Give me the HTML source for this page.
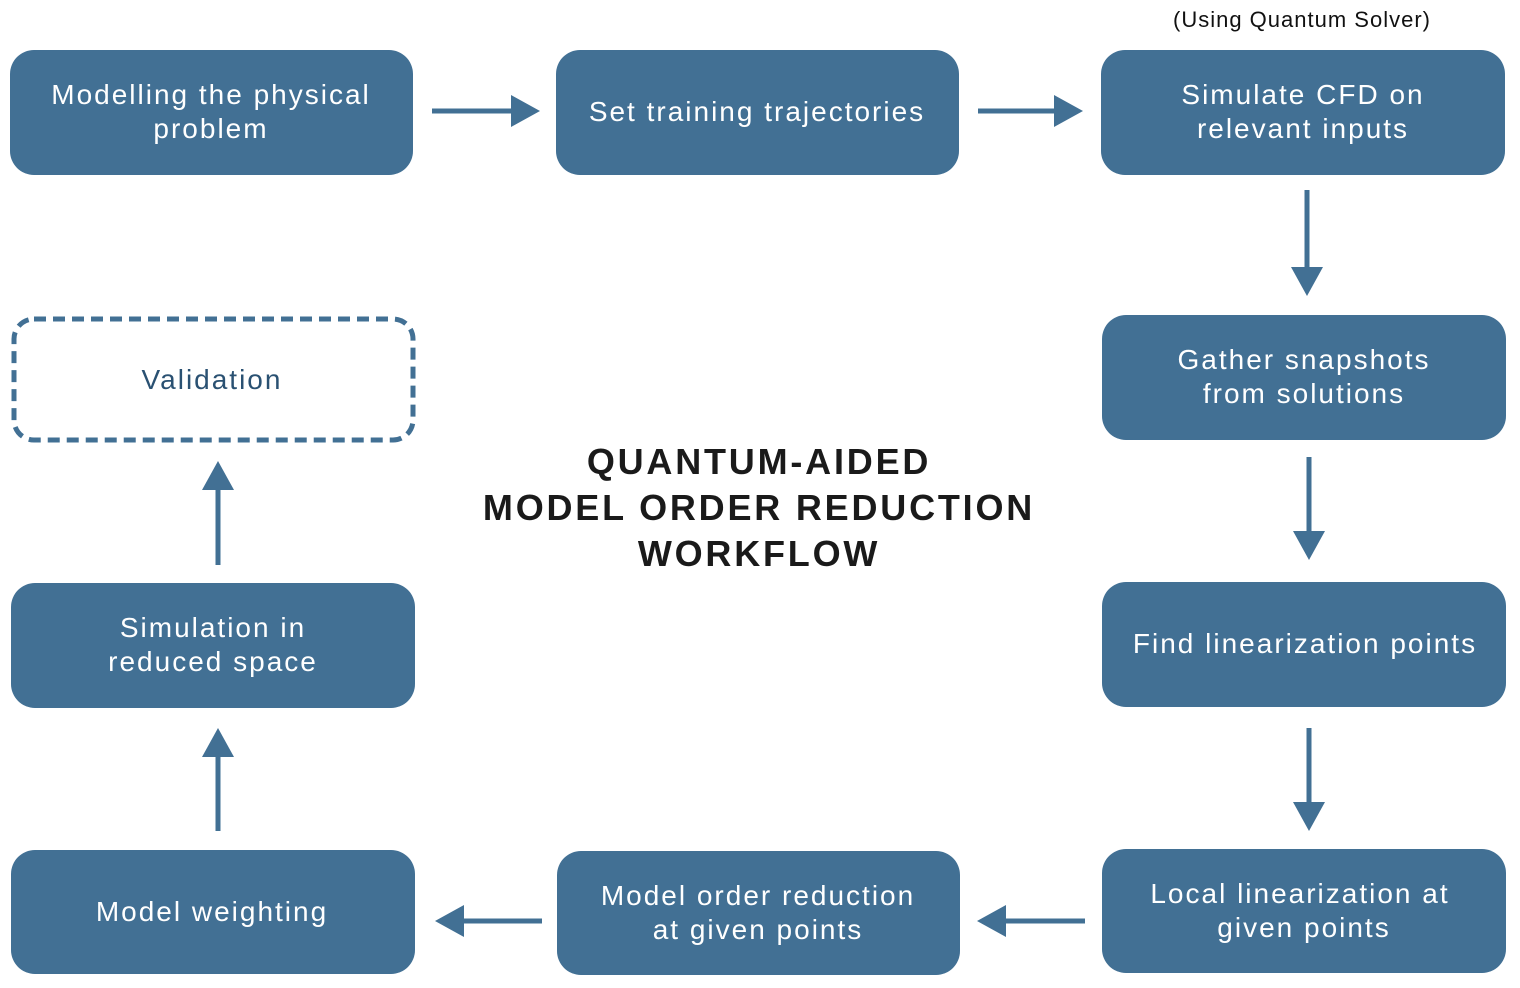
<!DOCTYPE html>
<html><head><meta charset="utf-8"><style>
html,body{margin:0;padding:0;background:#fff;}
svg{display:block;}
.t{font-family:"Liberation Sans",sans-serif;font-size:28px;fill:#fff;text-anchor:middle;letter-spacing:2px;}
</style></head><body>
<svg width="1520" height="988" viewBox="0 0 1520 988" xmlns="http://www.w3.org/2000/svg">
<g fill="#427094">
<rect x="10" y="50" width="403" height="125" rx="24"/>
<rect x="556" y="50" width="403" height="125" rx="24"/>
<rect x="1101" y="50" width="404" height="125" rx="24"/>
<rect x="1102" y="315" width="404" height="125" rx="24"/>
<rect x="1102" y="582" width="404" height="125" rx="24"/>
<rect x="1102" y="849" width="404" height="124" rx="24"/>
<rect x="557" y="851" width="403" height="124" rx="24"/>
<rect x="11" y="850" width="404" height="124" rx="24"/>
<rect x="11" y="583" width="404" height="125" rx="24"/>
</g>
<rect x="14" y="319" width="399" height="121" rx="20" fill="none" stroke="#427094" stroke-width="5" stroke-dasharray="12 7"/>
<g stroke="#427094" stroke-width="5" fill="none">
<line x1="432" y1="111" x2="514" y2="111"/>
<line x1="978" y1="111" x2="1057" y2="111"/>
<line x1="1307" y1="190" x2="1307" y2="270"/>
<line x1="1309" y1="457" x2="1309" y2="534"/>
<line x1="1309" y1="728" x2="1309" y2="805"/>
<line x1="1085" y1="921" x2="1003" y2="921"/>
<line x1="542" y1="921" x2="461" y2="921"/>
<line x1="218" y1="831" x2="218" y2="755"/>
<line x1="218" y1="565" x2="218" y2="488"/>
</g>
<g fill="#427094">
<polygon points="511,95 540,111 511,127"/>
<polygon points="1054,95 1083,111 1054,127"/>
<polygon points="1291,267 1323,267 1307,296"/>
<polygon points="1293,531 1325,531 1309,560"/>
<polygon points="1293,802 1325,802 1309,831"/>
<polygon points="1006,905 1006,937 977,921"/>
<polygon points="464,905 464,937 435,921"/>
<polygon points="202,757 234,757 218,728"/>
<polygon points="202,490 234,490 218,461"/>
</g>
<text class="t" x="211" y="104">Modelling the physical</text>
<text class="t" x="211" y="138">problem</text>
<text class="t" x="757" y="121">Set training trajectories</text>
<text class="t" x="1303" y="104">Simulate CFD on</text>
<text class="t" x="1303" y="138">relevant inputs</text>
<text class="t" x="1304" y="369">Gather snapshots</text>
<text class="t" x="1304" y="403">from solutions</text>
<text class="t" x="1305" y="653">Find linearization points</text>
<text class="t" x="1300" y="903">Local linearization at</text>
<text class="t" x="1304" y="937">given points</text>
<text class="t" x="758" y="905">Model order reduction</text>
<text class="t" x="758" y="939">at given points</text>
<text class="t" x="212" y="921">Model weighting</text>
<text class="t" x="213" y="637">Simulation in</text>
<text class="t" x="213" y="671">reduced space</text>
<text class="t" x="212" y="389" style="fill:#2a5172">Validation</text>
<text x="1302" y="27" style="font-family:'Liberation Sans',sans-serif;font-size:22px;fill:#111;text-anchor:middle;letter-spacing:1px">(Using Quantum Solver)</text>
<g style="font-family:'Liberation Sans',sans-serif;font-size:36px;font-weight:bold;fill:#1a1a1a;text-anchor:middle;letter-spacing:2.8px">
<text x="759" y="474">QUANTUM-AIDED</text>
<text x="759" y="520">MODEL ORDER REDUCTION</text>
<text x="759" y="566">WORKFLOW</text>
</g>
</svg>
</body></html>
